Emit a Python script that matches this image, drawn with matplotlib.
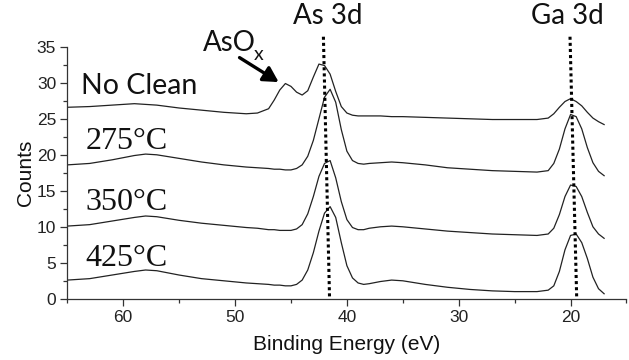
import matplotlib
matplotlib.use("Agg")
import matplotlib.pyplot as plt
from matplotlib.ticker import MultipleLocator

# ---- data ----
energy = [65, 63, 61, 59, 58, 57, 55, 53, 51, 49, 48, 47, 46.5, 46, 45.5, 45, 44.5, 44,
          43.5, 43, 42.5, 42, 41.5, 41, 40.5, 40, 39.5, 39, 38.5, 38, 37, 36, 35, 33, 31,
          29, 27, 25, 23, 22, 21.5, 21, 20.5, 20, 19.5, 19, 18.5, 18, 17.5, 17]

no_clean = [26.6, 26.7, 26.9, 27.1, 27.0, 26.9, 26.5, 26.2, 25.9, 25.7, 25.8, 26.4, 27.6,
            29.0, 29.9, 29.5, 28.7, 28.3, 28.9, 30.8, 32.6, 32.4, 31.2, 28.8, 26.7, 25.8,
            25.5, 25.4, 25.4, 25.4, 25.4, 25.3, 25.3, 25.2, 25.1, 25.0, 24.9, 24.9, 24.9,
            25.1, 25.7, 26.6, 27.4, 27.8, 27.4, 26.8, 25.9, 25.1, 24.6, 24.2]

t275 = [18.6, 18.8, 19.3, 19.9, 20.1, 20.0, 19.5, 19.0, 18.6, 18.3, 18.2, 18.1, 18.0,
        18.0, 17.9, 17.9, 18.1, 18.6, 19.8, 22.0, 25.0, 28.0, 29.1, 27.3, 23.5, 20.5,
        19.2, 18.8, 18.7, 18.8, 18.9, 19.0, 18.9, 18.6, 18.2, 18.0, 17.8, 17.7, 17.6,
        17.8, 18.8, 20.8, 23.6, 25.6, 25.3, 23.6, 21.0, 18.9, 17.7, 17.1]

t350 = [10.1, 10.3, 10.8, 11.3, 11.5, 11.4, 10.9, 10.5, 10.2, 9.9, 9.8, 9.6, 9.6, 9.5,
        9.5, 9.5, 9.7, 10.3, 11.8, 14.2, 17.0, 18.8, 19.2, 16.8, 13.5, 11.0, 9.9, 9.6,
        9.6, 9.8, 10.0, 10.1, 10.0, 9.7, 9.4, 9.2, 9.0, 8.9, 8.8, 9.0, 9.8, 11.7, 14.2,
        15.8, 15.6, 14.2, 12.0, 10.0, 9.0, 8.4]

t425 = [2.6, 2.8, 3.3, 3.8, 4.0, 3.9, 3.3, 2.8, 2.5, 2.2, 2.1, 2.0, 1.9, 1.9, 1.8, 1.8,
        2.0, 2.6, 4.0, 6.4, 9.4, 11.9, 12.8, 11.3, 7.8, 4.6, 2.9, 2.2, 2.0, 2.1, 2.4,
        2.6, 2.5, 2.0, 1.6, 1.3, 1.1, 1.0, 1.0, 1.2, 1.8, 3.8, 6.8, 8.8, 9.0, 7.8, 5.6,
        3.0, 1.4, 0.7]

series = [no_clean, t275, t350, t425]
curve_labels = ["No Clean", "275\u00b0C", "350\u00b0C", "425\u00b0C"]
label_y = [28.5, 20.8, 12.4, 4.5]

as_line_x = [42.1, 41.55]
ga_line_x = [20.05, 19.45]
line_y = [36.4, 0]

# ---- figure ----
fig = plt.figure(figsize=(6.29, 3.6), dpi=100)
ax = fig.add_axes([0.107, 0.170, 0.889, 0.700])

for s in series:
    ax.plot(energy, s, color="#222222", lw=0.9)

ax.plot(as_line_x, line_y, color="black", lw=2.2, linestyle=(0, (1, 1)), clip_on=False)
ax.plot(ga_line_x, line_y, color="black", lw=2.2, linestyle=(0, (1, 1)), clip_on=False)

ax.set_xlim(65, 15)
ax.set_ylim(0, 35)
ax.xaxis.set_major_locator(MultipleLocator(10))
ax.xaxis.set_minor_locator(MultipleLocator(5))
ax.yaxis.set_major_locator(MultipleLocator(5))
ax.yaxis.set_minor_locator(MultipleLocator(2.5))
for sp in ["top", "right"]:
    ax.spines[sp].set_visible(False)
for sp in ["left", "bottom"]:
    ax.spines[sp].set_color("#333333")
    ax.spines[sp].set_linewidth(0.9)
ax.tick_params(which="major", direction="out", length=5, width=0.9, colors="#333333",
               labelsize=12.5, pad=3)
ax.tick_params(which="minor", direction="out", length=3, width=0.9, colors="#333333")
for lab in ax.get_xticklabels() + ax.get_yticklabels():
    lab.set_fontfamily("Liberation Sans")
    lab.set_color("#222222")

ax.set_xlabel("Binding Energy (eV)", fontsize=15, family="Liberation Sans",
              color="#111111", labelpad=7)
ax.set_ylabel("Counts", fontsize=15, family="Liberation Sans", color="#111111",
              labelpad=1)

# curve labels
sans = "Lato"
ax.text(63.8, label_y[0], curve_labels[0], fontsize=20.5, family=sans, color="#111111")
for lab, yy in zip(curve_labels[1:], label_y[1:]):
    ax.text(63.4, yy, lab, fontsize=23, family="Liberation Serif", color="#111111")

# peak labels
ax.text(41.7, 39.3, "As 3d", fontsize=20, family=sans, ha="center", va="center",
        color="#111111", clip_on=False)
ax.text(20.25, 39.3, "Ga 3d", fontsize=20, family=sans, ha="center", va="center",
        color="#111111", clip_on=False)
ax.text(52.9, 34.4, "AsO", fontsize=20, family=sans, color="#111111", clip_on=False)
ax.text(48.3, 33.1, "x", fontsize=14, family=sans, color="#111111", clip_on=False)

ax.annotate("", xy=(46.1, 30.1), xytext=(49.6, 33.5),
            arrowprops=dict(arrowstyle="-|>,head_length=0.9,head_width=0.5",
                            color="black", lw=2.4, shrinkA=0, shrinkB=0))

fig.savefig("out.png", dpi=100)
